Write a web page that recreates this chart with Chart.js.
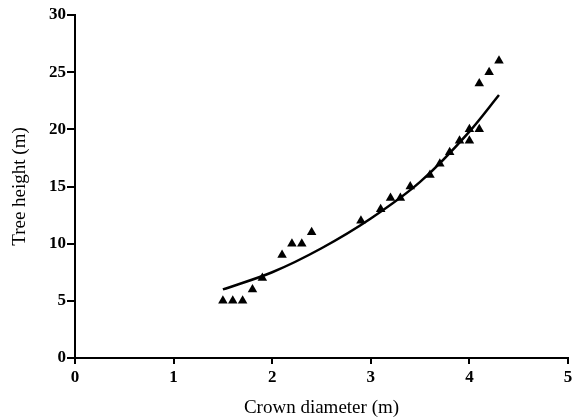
<!DOCTYPE html>
<html><head><meta charset="utf-8">
<script src="https://cdn.jsdelivr.net/npm/chart.js@4"></script>
<style>html,body{margin:0;padding:0;background:#fff}#wrap{width:584px;height:419px}</style>
</head><body><div id="wrap"><canvas id="c" width="584" height="419"></canvas></div>
<script>
const crownDiameter = [1.5,1.6,1.7,1.8,1.9,2.1,2.2,2.3,2.4,2.9,3.1,3.2,3.3,3.4,3.6,3.7,3.8,3.9,4.0,4.0,4.1,4.1,4.2,4.3];
const treeHeight    = [5,5,5,6,7,9,10,10,11,12,13,14,14,15,16,17,18,19,19,20,20,24,25,26];
const fitX = [1.5,2.0,2.5,3.0,3.5,4.0,4.3];
const fitY = [6.0,7.5,9.6,12.2,15.4,19.8,23.0];
const xTicks = [0,1,2,3,4,5];
const yTicks = [0,5,10,15,20,25,30];

const pts = crownDiameter.map((x,i)=>({x:x,y:treeHeight[i]}));
const fit = fitX.map((x,i)=>({x:x,y:fitY[i]}));
const serif = '"Liberation Serif", "Times New Roman", serif';

new Chart(document.getElementById('c'), {
  type: 'scatter',
  data: { datasets: [
    { data: pts, pointStyle:'triangle', pointRadius:5.5, backgroundColor:'#000', borderColor:'#000', borderWidth:0, pointHoverRadius:5.5 },
    { type:'line', data: fit, showLine:true, pointRadius:0, borderColor:'#000', borderWidth:2.5, fill:false, cubicInterpolationMode:'monotone' }
  ]},
  options: {
    responsive:false, animation:false,
    plugins:{ legend:{display:false}, tooltip:{enabled:false} },
    layout:{ padding:{ top:15, right:16, left:0, bottom:0 } },
    scales:{
      x:{ type:'linear', min:0, max:5,
        afterBuildTicks: s => { s.ticks = xTicks.map(v=>({value:v})); },
        afterFit: s => { s.height = 61; },
        border:{ color:'#000', width:2 },
        grid:{ drawOnChartArea:false, drawTicks:true, tickLength:6, color:'#000', lineWidth:2 },
        ticks:{ color:'#000', font:{ family:serif, size:17, weight:'bold' }, padding:3, maxRotation:0 },
        title:{ display:true, text:'Crown diameter (m)', color:'#000', font:{ family:serif, size:19 }, padding:{top:4,bottom:0} }
      },
      y:{ min:0, max:30,
        afterBuildTicks: s => { s.ticks = yTicks.map(v=>({value:v})); },
        afterFit: s => { s.width = 75; },
        border:{ color:'#000', width:2 },
        grid:{ drawOnChartArea:false, drawTicks:true, tickLength:8, color:'#000', lineWidth:2 },
        ticks:{ color:'#000', font:{ family:serif, size:17, weight:'bold' }, padding:1 },
        title:{ display:true, text:'Tree height (m)', color:'#000', font:{ family:serif, size:19 }, padding:{top:9,bottom:0} }
      }
    }
  }
});
</script></body></html>
